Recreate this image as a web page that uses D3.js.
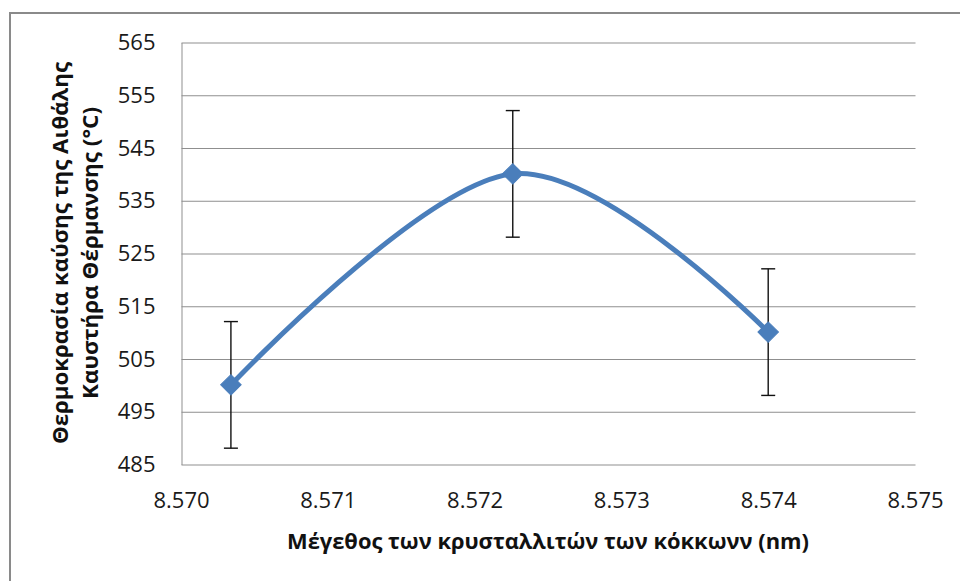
<!DOCTYPE html>
<html>
<head>
<meta charset="utf-8">
<script src="https://cdn.jsdelivr.net/npm/d3@7"></script>
<style>
  html, body { margin: 0; padding: 0; background: #fff; }
  svg { display: block; }
</style>
</head>
<body>
<svg id="chart" width="960" height="581"></svg>
<script>
// ---- data ----
const crystalSize = [8.57034, 8.57226, 8.57400];
const combustionTemp = [500, 540, 510];
const tempError = [12, 12, 12];
const xTickValues = [8.570, 8.571, 8.572, 8.573, 8.574, 8.575];
const yTickValues = [485, 495, 505, 515, 525, 535, 545, 555, 565];
const xTitle = "Μέγεθος των κρυσταλλιτών των κόκκωνν (nm)";
const yTitleLines = ["Θερμοκρασία καύσης της Αιθάλης", "Καυστήρα Θέρμανσης (°C)"];

// ---- layout ----
const W = 960, H = 581;
const plot = { left: 181, right: 915, top: 42, bottom: 464 };
const FONT = "'Open Sans', 'Noto Sans', sans-serif";
const blue = "#4A7EBB";
const gridColor = "#8f8f8f";

const svg = d3.select("#chart");
svg.append("rect").attr("width", W).attr("height", H).attr("fill", "#fff");

// outer chart border (right/bottom edges are outside the view)
svg.append("rect")
  .attr("x", 10).attr("y", 13).attr("width", 1200).attr("height", 1200)
  .attr("fill", "none").attr("stroke", "#8a8a8a").attr("stroke-width", 2);

const x = d3.scaleLinear().domain([8.570, 8.575]).range([plot.left, plot.right]);
const y = d3.scaleLinear().domain([485, 565]).range([plot.bottom, plot.top]);

// y axis with gridlines
const yAxis = d3.axisLeft(y)
  .tickValues(yTickValues)
  .tickSizeInner(-(plot.right - plot.left))
  .tickSizeOuter(0)
  .tickPadding(26)
  .tickFormat(d3.format("d"));

const gy = svg.append("g")
  .attr("transform", `translate(${plot.left + 0.5},0.5)`)
  .call(yAxis);
gy.selectAll(".tick line").attr("stroke", gridColor).attr("stroke-width", 1);
gy.select(".domain").attr("stroke", gridColor).attr("stroke-width", 1);
gy.selectAll(".tick text")
  .attr("font-family", FONT).attr("font-size", 22).attr("fill", "#1a1a1a");

// x axis (labels only)
const xAxis = d3.axisBottom(x)
  .tickValues(xTickValues)
  .tickSize(0)
  .tickPadding(28)
  .tickFormat(d3.format(".3f"));
const gx = svg.append("g")
  .attr("transform", `translate(0,${plot.bottom})`)
  .call(xAxis);
gx.select(".domain").remove();
gx.selectAll(".tick text")
  .attr("font-family", FONT).attr("font-size", 22).attr("fill", "#1a1a1a");

// axis titles, compressed to the reference widths
function fitText(sel, targetWidth) {
  sel.attr("textLength", targetWidth).attr("lengthAdjust", "spacingAndGlyphs");
}

const xt = svg.append("text")
  .attr("x", (plot.left + plot.right) / 2)
  .attr("y", 549)
  .attr("text-anchor", "middle")
  .attr("font-family", FONT).attr("font-weight", "bold").attr("fill", "#111")
  .attr("font-size", 22)
  .text(xTitle);
fitText(xt, 522);

const yTitleBaselines = [68, 98];
const yTitleWidths = [382, 292];
const cy = (plot.top + plot.bottom) / 2;
yTitleLines.forEach((line, i) => {
  const t = svg.append("text")
    .attr("transform", `translate(${yTitleBaselines[i]},${cy}) rotate(-90)`)
    .attr("text-anchor", "middle")
    .attr("font-family", FONT).attr("font-weight", "bold").attr("fill", "#111")
    .attr("font-size", 22)
    .text(line);
  fitText(t, yTitleWidths[i]);
});

// data
const pts = crystalSize.map((d, i) => ({ x: d, y: combustionTemp[i], e: tempError[i] }));

// error bars
const eb = svg.append("g").attr("stroke", "#111").attr("stroke-width", 1.4);
pts.forEach(p => {
  const px = x(p.x);
  eb.append("line").attr("x1", px).attr("x2", px).attr("y1", y(p.y - p.e)).attr("y2", y(p.y + p.e));
  eb.append("line").attr("x1", px - 7).attr("x2", px + 7).attr("y1", y(p.y + p.e)).attr("y2", y(p.y + p.e));
  eb.append("line").attr("x1", px - 7).attr("x2", px + 7).attr("y1", y(p.y - p.e)).attr("y2", y(p.y - p.e));
});

// smoothed line
const lineGen = d3.line()
  .x(d => x(d.x)).y(d => y(d.y))
  .curve(d3.curveCardinal.tension(0));
svg.append("path")
  .datum(pts)
  .attr("d", lineGen)
  .attr("fill", "none")
  .attr("stroke", blue)
  .attr("stroke-width", 5)
  .attr("stroke-linecap", "round");

// diamond markers
const sym = d3.symbol().type(d3.symbolSquare).size(210);
svg.append("g").selectAll("path")
  .data(pts)
  .join("path")
  .attr("d", sym)
  .attr("transform", d => `translate(${x(d.x)},${y(d.y)}) rotate(45)`)
  .attr("fill", blue)
  .attr("stroke", blue)
  .attr("stroke-width", 1);
</script>
</body>
</html>
